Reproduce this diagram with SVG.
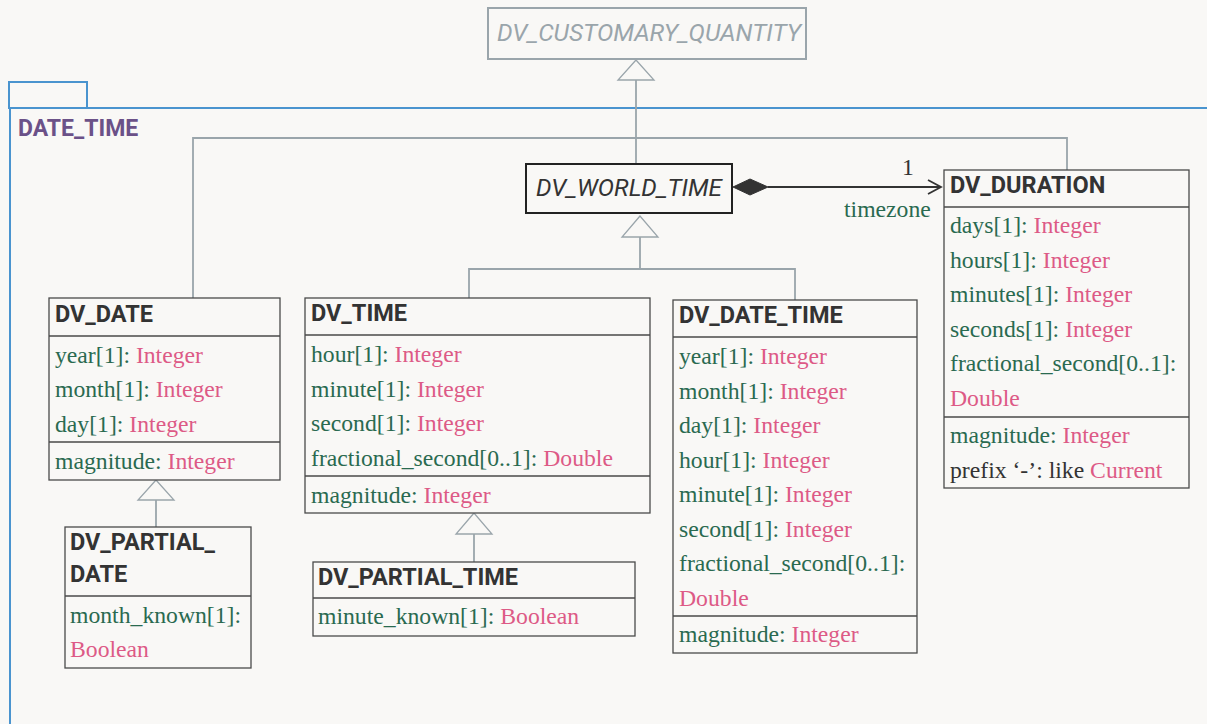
<svg xmlns="http://www.w3.org/2000/svg" width="1207" height="724" viewBox="0 0 1207 724">
<style>
.bg{fill:#f9f8f6}
.pkg{fill:none;stroke:#4a94cf;stroke-width:2}
.pkgname{font-family:Roboto,"Liberation Sans",sans-serif;font-weight:bold;font-size:23px;fill:#6b5188}
.box{fill:#f9f8f6;stroke:#4a4a4a;stroke-width:1.3}
.div{stroke:#4a4a4a;stroke-width:1.3}
.hdr{font-family:Roboto,"Liberation Sans",sans-serif;font-weight:bold;font-size:23.5px;fill:#333}
.abs{font-family:Roboto,"Liberation Sans",sans-serif;font-style:italic;font-size:24px}
.att{font-family:"Liberation Serif",serif;font-size:23.7px;fill:#2a6a50}
.t{fill:#dd5a86}
.k{fill:#333}
.gen{fill:none;stroke:#9aa5ab;stroke-width:1.8}
.tri{fill:#f9f8f6;stroke:#9aa5ab;stroke-width:1.3}
.assoc{fill:none;stroke:#333;stroke-width:1.8}
</style>
<rect class="bg" x="0" y="0" width="1207" height="724"/>
<g id="package">
<rect class="pkg" x="9" y="82" width="78" height="26"/>
<path class="pkg" d="M10 108 H1207 M10 108 V724"/>
<text class="pkgname" x="18" y="136">DATE_TIME</text>
</g>
<g id="connectors">
<path class="gen" d="M636 80 V164"/>
<polygon class="tri" points="636,60 618,80 654,80"/>
<path class="gen" d="M193 298 V138 H1067 V170"/>
<path class="gen" d="M640 237 V269 M469 298 V269 H795 V300"/>
<polygon class="tri" points="640,216 622,237 658,237"/>
<path class="gen" d="M156 500 V527"/>
<polygon class="tri" points="156,480 138,500 174,500"/>
<path class="gen" d="M474 534 V562"/>
<polygon class="tri" points="474,513 456,534 492,534"/>
<path class="assoc" d="M768 187 H940 M928 180 L941 187 L928 194"/>
<polygon points="733,187 750,179 768,187 750,195" fill="#333" stroke="#333" stroke-width="1"/>
<text class="att k" x="902" y="175">1</text>
<text class="att" x="844" y="217">timezone</text>
</g>
<g id="DV_CUSTOMARY_QUANTITY">
<rect x="488" y="8" width="318" height="51" fill="#f9f8f6" stroke="#9aa5ab" stroke-width="2"/>
<text class="abs" x="497" y="41" fill="#9aa5ab" textLength="304" lengthAdjust="spacingAndGlyphs">DV_CUSTOMARY_QUANTITY</text>
</g>
<g id="DV_WORLD_TIME">
<rect x="526" y="164" width="206" height="49" fill="#f9f8f6" stroke="#222" stroke-width="2"/>
<text class="abs" x="536" y="196" fill="#333" textLength="186" lengthAdjust="spacingAndGlyphs">DV_WORLD_TIME</text>
</g>
<g id="DV_DURATION">
<rect class="box" x="944" y="170" width="245" height="318"/>
<path class="div" d="M944 207 H1189 M944 417 H1189"/>
<text class="hdr" x="950" y="193">DV_DURATION</text>
<text class="att" x="950" y="233">days[1]: <tspan class="t">Integer</tspan></text>
<text class="att" x="950" y="268">hours[1]: <tspan class="t">Integer</tspan></text>
<text class="att" x="950" y="302">minutes[1]: <tspan class="t">Integer</tspan></text>
<text class="att" x="950" y="337">seconds[1]: <tspan class="t">Integer</tspan></text>
<text class="att" x="950" y="371">fractional_second[0..1]:</text>
<text class="att t" x="950" y="406">Double</text>
<text class="att" x="950" y="443">magnitude: <tspan class="t">Integer</tspan></text>
<text class="att k" x="950" y="478">prefix ‘-’: like <tspan class="t">Current</tspan></text>
</g>
<g id="DV_DATE">
<rect class="box" x="49" y="298" width="231" height="182"/>
<path class="div" d="M49 336 H280 M49 442 H280"/>
<text class="hdr" x="55" y="322">DV_DATE</text>
<text class="att" x="55" y="363">year[1]: <tspan class="t">Integer</tspan></text>
<text class="att" x="55" y="397">month[1]: <tspan class="t">Integer</tspan></text>
<text class="att" x="55" y="432">day[1]: <tspan class="t">Integer</tspan></text>
<text class="att" x="55" y="469">magnitude: <tspan class="t">Integer</tspan></text>
</g>
<g id="DV_PARTIAL_DATE">
<rect class="box" x="65" y="527" width="186" height="141"/>
<path class="div" d="M65 596 H251"/>
<text class="hdr" x="70" y="550">DV_PARTIAL_</text>
<text class="hdr" x="70" y="582">DATE</text>
<text class="att" x="70" y="623">month_known[1]:</text>
<text class="att t" x="70" y="657">Boolean</text>
</g>
<g id="DV_TIME">
<rect class="box" x="305" y="298" width="345" height="215"/>
<path class="div" d="M305 335 H650 M305 476 H650"/>
<text class="hdr" x="311" y="321">DV_TIME</text>
<text class="att" x="311" y="362">hour[1]: <tspan class="t">Integer</tspan></text>
<text class="att" x="311" y="397">minute[1]: <tspan class="t">Integer</tspan></text>
<text class="att" x="311" y="431">second[1]: <tspan class="t">Integer</tspan></text>
<text class="att" x="311" y="466">fractional_second[0..1]: <tspan class="t">Double</tspan></text>
<text class="att" x="311" y="503">magnitude: <tspan class="t">Integer</tspan></text>
</g>
<g id="DV_PARTIAL_TIME">
<rect class="box" x="313" y="562" width="322" height="74"/>
<path class="div" d="M313 598 H635"/>
<text class="hdr" x="318" y="585">DV_PARTIAL_TIME</text>
<text class="att" x="318" y="624">minute_known[1]: <tspan class="t">Boolean</tspan></text>
</g>
<g id="DV_DATE_TIME">
<rect class="box" x="673" y="300" width="244" height="353"/>
<path class="div" d="M673 337 H917 M673 616 H917"/>
<text class="hdr" x="679" y="323">DV_DATE_TIME</text>
<text class="att" x="679" y="364">year[1]: <tspan class="t">Integer</tspan></text>
<text class="att" x="679" y="399">month[1]: <tspan class="t">Integer</tspan></text>
<text class="att" x="679" y="433">day[1]: <tspan class="t">Integer</tspan></text>
<text class="att" x="679" y="468">hour[1]: <tspan class="t">Integer</tspan></text>
<text class="att" x="679" y="502">minute[1]: <tspan class="t">Integer</tspan></text>
<text class="att" x="679" y="537">second[1]: <tspan class="t">Integer</tspan></text>
<text class="att" x="679" y="571">fractional_second[0..1]:</text>
<text class="att t" x="679" y="606">Double</text>
<text class="att" x="679" y="642">magnitude: <tspan class="t">Integer</tspan></text>
</g>
</svg>
